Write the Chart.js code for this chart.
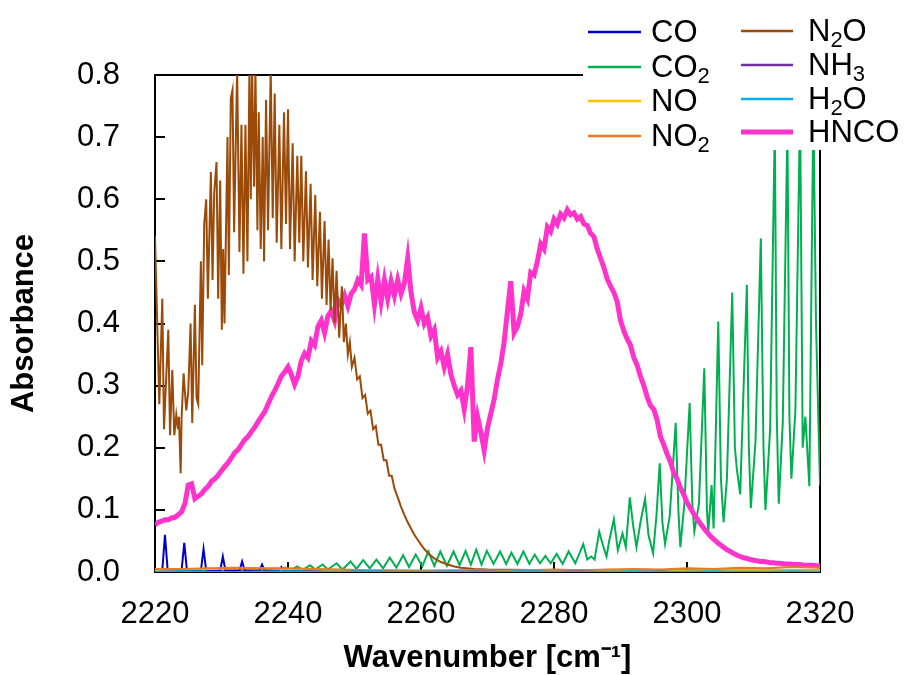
<!DOCTYPE html>
<html><head><meta charset="utf-8">
<script src="https://cdn.jsdelivr.net/npm/chart.js@4.4.1/dist/chart.umd.min.js"></script>
<style>html,body{margin:0;padding:0;background:#fff;}canvas{display:block;}</style>
</head><body>
<canvas id="c" width="905" height="675"></canvas>
<script>
// ---- axis ticks ----
const xTicks = [2220, 2240, 2260, 2280, 2300, 2320];
const yTicks = [0.0, 0.1, 0.2, 0.3, 0.4, 0.5, 0.6, 0.7, 0.8];

// ---- series names (legend order) ----
const legendLeft = ['CO', 'CO2', 'NO', 'NO2'];
const legendRight = ['N2O', 'NH3', 'H2O', 'HNCO'];

// ---- CO [wavenumber, absorbance] ----
const coPts = [[2220,0.002],[2221.1,0.003],[2221.5,0.060],[2221.9,0.003],[2224.0,0.003],[2224.4,0.047],[2224.8,0.003],
 [2226.9,0.002],[2227.3,0.037],[2227.7,0.002],[2229.8,0.002],[2230.2,0.025],[2230.6,0.002],[2232.7,0.002],[2233.1,0.017],
 [2233.5,0.002],[2235.7,0.002],[2236.1,0.012],[2236.5,0.002],[2238.6,0.002],[2239.0,0.008],[2239.4,0.002],[2241.6,0.002],
 [2242.0,0.005],[2242.4,0.002],[2250,0.001],[2260,0.001],[2270,0.000],[2280,0.000],[2290,0.000],[2296,-0.003],[2300,-0.004],
 [2304,-0.003],[2308,-0.004],[2312,-0.004],[2316,-0.004],[2320,-0.003]];

// ---- CO2 ----
const co2Pts = [[2220,0.003],[2236,0.003],[2237.8,0.005],[2238.6,0.003],[2239.6,0.007],[2240.4,0.003],[2241.4,0.009],[2242.2,0.003],
 [2243.3,0.011],[2244.1,0.004],[2245.2,0.012],[2246.0,0.004],[2247.3,0.014],[2248.2,0.004],[2249.4,0.017],[2250.3,0.005],
 [2251.3,0.019],[2252.3,0.006],[2253.3,0.020],[2254.3,0.006],[2255.3,0.023],[2256.3,0.007],[2257.3,0.027],[2258.2,0.008],
 [2259.2,0.028],[2260.2,0.009],[2261.1,0.033],[2262.0,0.010],[2262.9,0.033],[2263.9,0.010],[2264.9,0.033],[2265.8,0.011],
 [2266.7,0.034],[2267.5,0.012],[2268.3,0.036],[2269.1,0.012],[2269.9,0.034],[2270.9,0.013],[2271.9,0.033],[2272.8,0.013],
 [2273.6,0.031],[2274.5,0.013],[2275.4,0.033],[2276.3,0.013],[2277.1,0.028],[2277.9,0.014],[2278.7,0.026],[2279.5,0.014],
 [2280.4,0.029],[2281.3,0.013],[2282.2,0.033],[2283.2,0.014],[2284.4,0.045],[2285.0,0.020],[2285.6,0.025],[2286.1,0.020],
 [2286.8,0.065],[2287.3,0.045],[2287.9,0.025],[2288.3,0.050],[2289.0,0.085],[2289.6,0.035],[2290.3,0.062],[2290.8,0.040],
 [2291.4,0.120],[2291.9,0.075],[2292.4,0.040],[2293.0,0.080],[2293.7,0.118],[2294.2,0.060],[2294.9,0.030],[2295.4,0.090],
 [2295.9,0.175],[2296.3,0.080],[2296.7,0.045],[2297.4,0.090],[2298.3,0.240],[2298.7,0.100],[2299.0,0.040],[2299.6,0.110],
 [2300.4,0.272],[2300.8,0.110],[2301.1,0.065],[2301.8,0.110],[2302.6,0.328],[2303.0,0.100],[2303.2,0.065],[2303.7,0.140],
 [2304.0,0.070],[2304.7,0.403],[2305.1,0.150],[2305.5,0.080],[2306.0,0.150],[2306.8,0.450],[2307.2,0.200],[2307.5,0.165],
 [2308.0,0.125],[2309.0,0.462],[2309.3,0.200],[2309.6,0.103],[2310.3,0.210],[2311.1,0.537],[2311.5,0.200],[2311.8,0.100],
 [2312.5,0.230],[2313.2,0.72],[2313.5,0.250],[2313.8,0.110],[2314.4,0.240],[2315.1,0.72],[2315.4,0.250],[2315.7,0.150],
 [2316.3,0.260],[2317.0,0.75],[2317.4,0.200],[2317.8,0.250],[2318.4,0.138],[2319.0,0.75],[2319.4,0.40],[2320.0,0.14]];

// ---- N2O ----
const n2oPts = [[2220.0,0.54],[2220.65,0.27],[2221.1,0.44],[2221.35,0.23],[2222.0,0.39],[2222.26,0.22],[2222.6,0.325],[2222.9,0.22],
 [2223.2,0.253],[2223.45,0.23],[2223.6,0.25],[2223.86,0.159],[2224.0,0.248],[2224.3,0.32],[2224.7,0.26],[2225.0,0.29],
 [2225.35,0.40],[2225.6,0.24],[2226.0,0.43],[2226.25,0.28],[2226.5,0.27],[2226.9,0.50],[2227.1,0.333],[2227.4,0.56],
 [2227.7,0.60],[2227.95,0.44],[2228.4,0.644],[2228.65,0.47],[2228.9,0.61],[2229.25,0.66],[2229.5,0.44],[2229.8,0.63],
 [2230.05,0.39],[2230.25,0.52],[2230.45,0.40],[2230.9,0.70],[2231.1,0.478],[2231.4,0.763],[2231.65,0.776],[2231.9,0.547],
 [2232.35,0.81],[2232.7,0.515],[2233.0,0.72],[2233.3,0.48],[2233.6,0.72],[2233.9,0.50],[2234.2,0.81],[2234.4,0.60],
 [2234.6,0.81],[2234.9,0.62],[2235.1,0.81],[2235.4,0.55],[2235.6,0.74],[2235.9,0.52],[2236.2,0.70],[2236.4,0.50],
 [2236.7,0.76],[2237.0,0.55],[2237.4,0.81],[2237.7,0.57],[2238.0,0.77],[2238.3,0.53],[2238.7,0.72],[2239.0,0.52],
 [2239.4,0.74],[2239.7,0.56],[2240.0,0.745],[2240.3,0.52],[2240.7,0.69],[2241.0,0.50],[2241.4,0.67],[2241.7,0.53],
 [2242.0,0.67],[2242.3,0.50],[2242.7,0.645],[2243.0,0.49],[2243.4,0.625],[2243.7,0.47],[2244.1,0.607],[2244.4,0.46],
 [2244.8,0.58],[2245.1,0.44],[2245.5,0.565],[2245.8,0.43],[2246.1,0.535],[2246.4,0.42],[2246.7,0.505],[2247.0,0.40],
 [2247.3,0.485],[2247.7,0.377],[2248.1,0.46],[2248.4,0.37],[2248.7,0.40],[2249.0,0.35],[2249.3,0.37],[2249.6,0.33],
 [2250.0,0.345],[2250.4,0.31],[2250.8,0.315],[2251.2,0.28],[2251.6,0.285],[2252.0,0.255],[2252.4,0.26],[2252.8,0.23],
 [2253.2,0.235],[2253.6,0.205],[2254.0,0.205],[2254.4,0.18],[2254.8,0.18],[2255.2,0.155],[2255.6,0.155],[2256.0,0.135],
 [2256.5,0.12],[2257.0,0.105],[2257.5,0.092],[2258.0,0.08],[2258.5,0.07],[2259.0,0.06],[2259.5,0.052],[2260.0,0.044],
 [2260.5,0.037],[2261.0,0.031],[2261.5,0.026],[2262.0,0.022],[2263.0,0.016],[2264.0,0.012],[2265.0,0.009],[2266.0,0.007],
 [2268.0,0.005],[2270.0,0.004],[2280.0,0.003],[2300.0,0.003],[2320.0,0.003]];

// ---- HNCO: sampled every 0.5 cm-1 from 2220 to 2320 ----
const hncoStart = 2220, hncoStep = 0.5;
const hncoY = [
 0.076,0.080,0.082,0.084,0.084,0.087,0.088,0.092,0.097,0.110,
 0.140,0.142,0.118,0.122,0.126,0.133,0.138,0.146,0.150,0.156,
 0.163,0.170,0.176,0.184,0.192,0.197,0.205,0.213,0.218,0.226,
 0.233,0.242,0.250,0.258,0.270,0.282,0.292,0.303,0.315,0.322,
 0.330,0.318,0.302,0.315,0.340,0.352,0.345,0.372,0.365,0.395,
 0.405,0.385,0.412,0.420,0.405,0.438,0.430,0.445,0.428,0.448,
 0.455,0.470,0.462,0.545,0.470,0.475,0.430,0.472,0.435,0.470,
 0.440,0.468,0.445,0.470,0.448,0.465,0.505,0.450,0.418,0.405,
 0.425,0.400,0.410,0.380,0.390,0.345,0.355,0.330,0.350,0.318,
 0.300,0.285,0.292,0.262,0.300,0.362,0.210,0.250,0.225,0.196,
 0.232,0.255,0.278,0.310,0.335,0.370,0.420,0.468,0.385,0.395,
 0.415,0.452,0.440,0.482,0.478,0.500,0.528,0.520,0.555,0.548,
 0.568,0.560,0.576,0.570,0.583,0.575,0.578,0.568,0.572,0.560,
 0.558,0.545,0.540,0.520,0.505,0.490,0.472,0.460,0.450,0.435,
 0.405,0.388,0.375,0.365,0.345,0.333,0.315,0.300,0.282,0.268,
 0.262,0.245,0.218,0.205,0.190,0.178,0.160,0.150,0.136,0.125,
 0.112,0.103,0.094,0.086,0.078,0.071,0.064,0.058,0.053,0.048,
 0.044,0.040,0.036,0.033,0.030,0.027,0.025,0.023,0.022,0.020,
 0.019,0.018,0.017,0.017,0.016,0.015,0.015,0.014,0.014,0.013,
 0.013,0.013,0.012,0.012,0.012,0.011,0.011,0.011,0.011,0.010,
 0.010];

// ---- near-zero species, sampled every 4 cm-1 from 2220 ----
const baseStart = 2220, baseStep = 4;
const noY   = [0.003,0.004,0.005,0.006,0.006,0.005,0.004,0.003,0.002,0.002,0.002,0.002,0.002,0.002,0.002,0.002,0.002,0.002,0.002,0.003,0.002,0.003,0.003,0.003,0.003,0.003];
const no2Y  = [0.005,0.005,0.006,0.007,0.006,0.006,0.005,0.004,0.003,0.003,0.002,0.003,0.003,0.002,0.003,0.004,0.003,0.004,0.005,0.004,0.006,0.005,0.007,0.006,0.008,0.007];
const nh3Y  = [0.000,0.001,-0.001,0.000,0.001,0.000,-0.001,0.000,0.001,0.000,-0.001,0.000,0.001,0.000,-0.001,0.000,0.001,-0.001,0.000,0.001,-0.001,0.000,-0.002,-0.001,-0.002,-0.001];
const h2oY  = [0.000,0.001,0.000,-0.001,0.000,0.001,0.000,0.000,0.001,0.000,0.000,0.001,0.000,0.000,0.001,0.000,0.000,0.000,0.001,0.000,0.000,0.001,0.000,0.000,0.001,0.000];

// ---- colours ----
const colors = {CO:'#0000CC', CO2:'#00B050', NO:'#FFC000', NO2:'#F07820', N2O:'#9C4A08', NH3:'#7030A0', H2O:'#00B0F0', HNCO:'#FF33CC'};

const FONT = "'Liberation Sans', Arial, Helvetica, sans-serif";
const pairs = a => a.map(p => ({x:p[0], y:p[1]}));
const grid = (start, step, ys) => ys.map((v,i) => ({x: start + i*step, y: v}));

function ds(name, data, width, order){
  return {label:name, data, borderColor:colors[name], backgroundColor:colors[name], borderWidth:width,
          pointRadius:0, tension:0, fill:false, order};
}

const datasets = [
  ds('H2O', grid(baseStart, baseStep, h2oY), 2.5, 0),
  ds('NH3', grid(baseStart, baseStep, nh3Y), 2, 1),
  ds('NO2', grid(baseStart, baseStep, no2Y), 2, 2),
  ds('NO',  grid(baseStart, baseStep, noY), 2, 3),
  ds('CO',  pairs(coPts), 2, 4),
  ds('N2O', pairs(n2oPts), 2, 5),
  ds('HNCO', grid(hncoStart, hncoStep, hncoY), 5, 6),
  ds('CO2', pairs(co2Pts), 2, 7)
];

function drawName(ctx, name, x, baseY){
  // digits rendered as subscripts
  let cx = x;
  for (const ch of name){
    if (/[0-9]/.test(ch)){
      ctx.font = '22px ' + FONT;
      ctx.fillText(ch, cx, baseY + 6);
      cx += ctx.measureText(ch).width;
    } else {
      ctx.font = '31px ' + FONT;
      ctx.fillText(ch, cx, baseY);
      cx += ctx.measureText(ch).width;
    }
  }
}

const framePlugin = {
  id:'frame',
  beforeDatasetsDraw(chart){
    const {ctx, chartArea:{left,right,top,bottom}, scales:{x,y}} = chart;
    ctx.save();
    ctx.strokeStyle = '#000'; ctx.lineWidth = 2;
    ctx.beginPath();
    xTicks.forEach(v => { const px = Math.round(x.getPixelForValue(v)); ctx.moveTo(px, bottom); ctx.lineTo(px, bottom - 10); });
    yTicks.forEach(v => { const py = Math.round(y.getPixelForValue(v)); ctx.moveTo(left, py); ctx.lineTo(left + 10, py); });
    ctx.stroke();
    ctx.strokeRect(left, top, right - left, bottom - top);
    ctx.restore();
  },
  afterDraw(chart){
    const ctx = chart.ctx;
    ctx.save();
    ctx.fillStyle = '#fff';
    ctx.fillRect(583, 0, 322, 150);
    ctx.textBaseline = 'alphabetic';
    ctx.textAlign = 'left';
    const rowsL = [32, 67, 101, 136];
    const rowsR = [31, 65, 99, 132];
    legendLeft.forEach((n,i) => {
      ctx.strokeStyle = colors[n]; ctx.lineWidth = 2.5;
      ctx.beginPath(); ctx.moveTo(588, rowsL[i]); ctx.lineTo(641, rowsL[i]); ctx.stroke();
      ctx.fillStyle = '#000'; drawName(ctx, n, 651, rowsL[i] + 10);
    });
    legendRight.forEach((n,i) => {
      ctx.strokeStyle = colors[n]; ctx.lineWidth = n === 'HNCO' ? 5 : 2.5;
      ctx.beginPath(); ctx.moveTo(741, rowsR[i]); ctx.lineTo(793, rowsR[i]); ctx.stroke();
      ctx.fillStyle = '#000'; drawName(ctx, n, 808, rowsR[i] + 10);
    });
    ctx.restore();
  }
};

new Chart(document.getElementById('c'), {
  type:'line',
  data:{datasets},
  options:{
    responsive:false, animation:false, devicePixelRatio:1,
    layout:{padding:{top:75, right:85, left:0, bottom:0}},
    plugins:{legend:{display:false}, tooltip:{enabled:false}},
    scales:{
      x:{type:'linear', min:2220, max:2320,
         afterBuildTicks: s => { s.ticks = xTicks.map(v => ({value:v})); },
         afterFit: s => { s.height = 103; },
         grid:{display:false, drawTicks:false}, border:{display:false},
         ticks:{color:'#000', font:{family:FONT, size:31}, padding:24, maxRotation:0, callback:v => String(v)},
         title:{display:true, text:'Wavenumber [cm⁻¹]', color:'#000', font:{family:FONT, size:31, weight:'bold'}, padding:{top:0,bottom:-2}}},
      y:{type:'linear', min:0, max:0.8,
         afterBuildTicks: s => { s.ticks = yTicks.map(v => ({value:v})); },
         afterFit: s => { s.width = 155; },
         grid:{display:false, drawTicks:false}, border:{display:false},
         ticks:{color:'#000', font:{family:FONT, size:31}, padding:35, callback:v => v.toFixed(1)},
         title:{display:true, text:'Absorbance', color:'#000', font:{family:FONT, size:31, weight:'bold'}, padding:{top:6,bottom:0}}}
    }
  },
  plugins:[framePlugin]
});
</script>
</body></html>
